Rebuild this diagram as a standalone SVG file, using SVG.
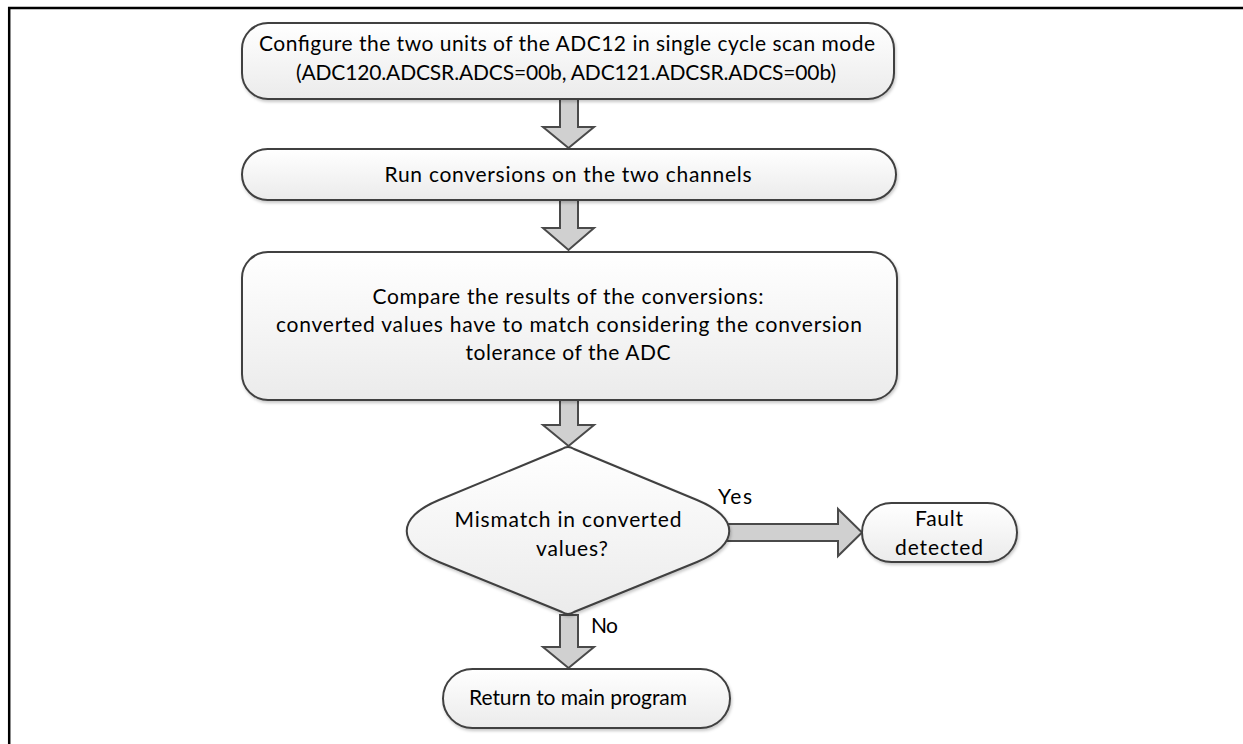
<svg xmlns="http://www.w3.org/2000/svg" width="1243" height="744" viewBox="0 0 1243 744">
  <defs>
    <linearGradient id="g" x1="0" y1="0" x2="0" y2="1">
      <stop offset="0" stop-color="#ffffff"/>
      <stop offset="1" stop-color="#ebebeb"/>
    </linearGradient>
    <filter id="sh" x="-5%" y="-5%" width="110%" height="120%">
      <feDropShadow dx="1" dy="2" stdDeviation="1.5" flood-color="#000" flood-opacity="0.22"/>
    </filter>
    <style>
      .box { fill: url(#g); stroke: #404040; stroke-width: 2; filter: url(#sh); }
      .arr { fill: #d0d0d0; stroke: #4a4a4a; stroke-width: 2; stroke-linejoin: miter; }
      .t { font-family: Lato, "Open Sans", "Liberation Sans", sans-serif; font-size: 21px; fill: #000; text-anchor: middle; }
      .lbl { font-family: Lato, "Open Sans", "Liberation Sans", sans-serif; font-size: 21px; fill: #000; }
      .frame { stroke: #000; stroke-width: 2.5; fill: none; }
    </style>
  </defs>
  <rect width="1243" height="744" fill="#ffffff"/>
  <path class="frame" d="M9.2,744 V8 H1243"/>

  <g id="connectors">
    <path class="arr" d="M560,99 V127 H543 L568.5,148 L594,127 H578 V99 Z"/>
    <path class="arr" d="M560,200 V228 H543 L568.5,250 L594,228 H578 V200 Z"/>
    <path class="arr" d="M560,400 V425 H543 L568.5,446 L594,425 H578 V400 Z"/>
    <path class="arr" d="M560,615 V647 H543 L568.5,668 L594,647 H578 V615 Z"/>
    <path class="arr" d="M727,524 H838 V509 L862,532.5 L838,556 V541 H727 Z"/>
    <text class="lbl" x="718" y="504" textLength="34">Yes</text>
    <text class="lbl" x="591" y="633" textLength="27">No</text>
  </g>

  <g id="n1">
    <rect class="box" x="242" y="23" width="652" height="76" rx="26" ry="26"/>
    <text class="t" x="567" y="51" textLength="616">Configure the two units of the ADC12 in single cycle scan mode</text>
    <text class="t" x="566" y="80" textLength="540">(ADC120.ADCSR.ADCS=00b, ADC121.ADCSR.ADCS=00b)</text>
  </g>

  <g id="n2">
    <rect class="box" x="242" y="149" width="654" height="51" rx="25.5" ry="25.5"/>
    <text class="t" x="568" y="182" textLength="367">Run conversions on the two channels</text>
  </g>

  <g id="n3">
    <rect class="box" x="242" y="252" width="655" height="148" rx="26" ry="26"/>
    <text class="t" x="568" y="304" textLength="391">Compare the results of the conversions:</text>
    <text class="t" x="569" y="332" textLength="586">converted values have to match considering the conversion</text>
    <text class="t" x="568" y="360" textLength="205">tolerance of the ADC</text>
  </g>

  <g id="n4">
    <path class="box" d="M562,449 Q568,445 574,449 L697,500 C740,518 740,544 697,562 L574,612 Q568,616 562,612 L439,562 C396,544 396,518 439,500 Z"/>
    <text class="t" x="568" y="527" textLength="227">Mismatch in converted</text>
    <text class="t" x="572" y="556" textLength="72">values?</text>
  </g>

  <g id="n5">
    <rect class="box" x="862" y="503" width="155" height="59" rx="29.5" ry="29.5"/>
    <text class="t" x="939" y="526" textLength="48">Fault</text>
    <text class="t" x="939" y="555" textLength="88">detected</text>
  </g>

  <g id="n6">
    <rect class="box" x="443" y="669" width="287" height="59" rx="29.5" ry="29.5"/>
    <text class="t" x="578" y="705" textLength="218">Return to main program</text>
  </g>
</svg>
